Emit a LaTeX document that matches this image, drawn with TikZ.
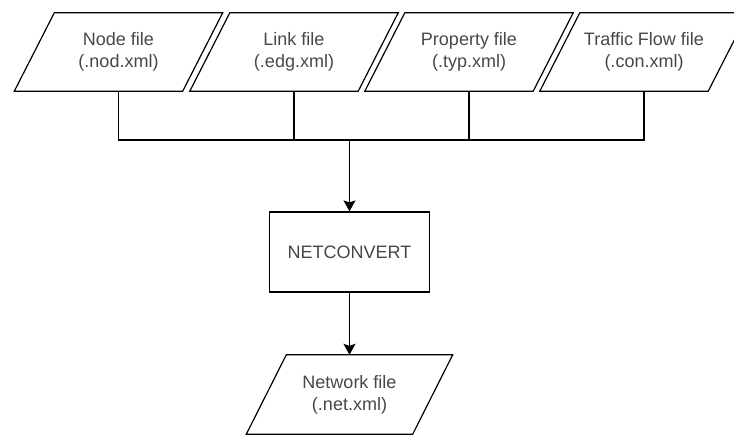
\documentclass[tikz,border=0pt]{standalone}
\usepackage{fontspec}
\setmainfont{Liberation Sans}
\usetikzlibrary{arrows.meta}
\tikzset{
  line/.style={draw=black, line width=1.2pt},
  arr/.style={line, -{Stealth[length=11pt,width=12pt,inset=2pt]}},
  para/.style={inner sep=0pt, minimum width=168pt, minimum height=78pt, align=center,
    text=black!72, font=\fontsize{18pt}{22pt}\selectfont},
  procbox/.style={line, inner sep=0pt, minimum width=160pt, minimum height=80pt, align=center,
    text=black!72, font=\fontsize{18pt}{22pt}\selectfont},
}
\newcommand\paraoutline[1]{%
  \draw[line, line join=miter] ([xshift=20pt]#1.north west) -- ([xshift=20pt]#1.north east)
    -- ([xshift=-20pt]#1.south east) -- ([xshift=-20pt]#1.south west) -- cycle;}
\begin{document}
\begin{tikzpicture}[x=1pt,y=-1pt]
\clip (0,0) rectangle (734,435);
\node[para] (n1) at (118.5,52) {Node file\\(.nod.xml)};
\node[para] (n2) at (294,52) {Link file\\(.edg.xml)};
\node[para] (n3) at (469,52) {Property file\\(.typ.xml)};
\node[para] (n4) at (644,52) {Traffic Flow file\\(.con.xml)};
\paraoutline{n1}
\paraoutline{n2}
\paraoutline{n3}
\paraoutline{n4}
\node[procbox] (nc) at (349.5,252) {NETCONVERT};
\node[para, minimum width=166pt, minimum height=79pt] (net) at (349.5,394.5) {Network file\\(.net.xml)};
\paraoutline{net}
\coordinate (bus) at (349.5,140);
\draw[line] (n1.south) |- (bus) -| (n4.south);
\draw[line] (n2.south) -- (n2.south |- bus);
\draw[line] (n3.south) -- (n3.south |- bus);
\draw[arr] (bus) -- (nc.north);
\draw[arr] (nc.south) -- (net.north);
\end{tikzpicture}
\end{document}
